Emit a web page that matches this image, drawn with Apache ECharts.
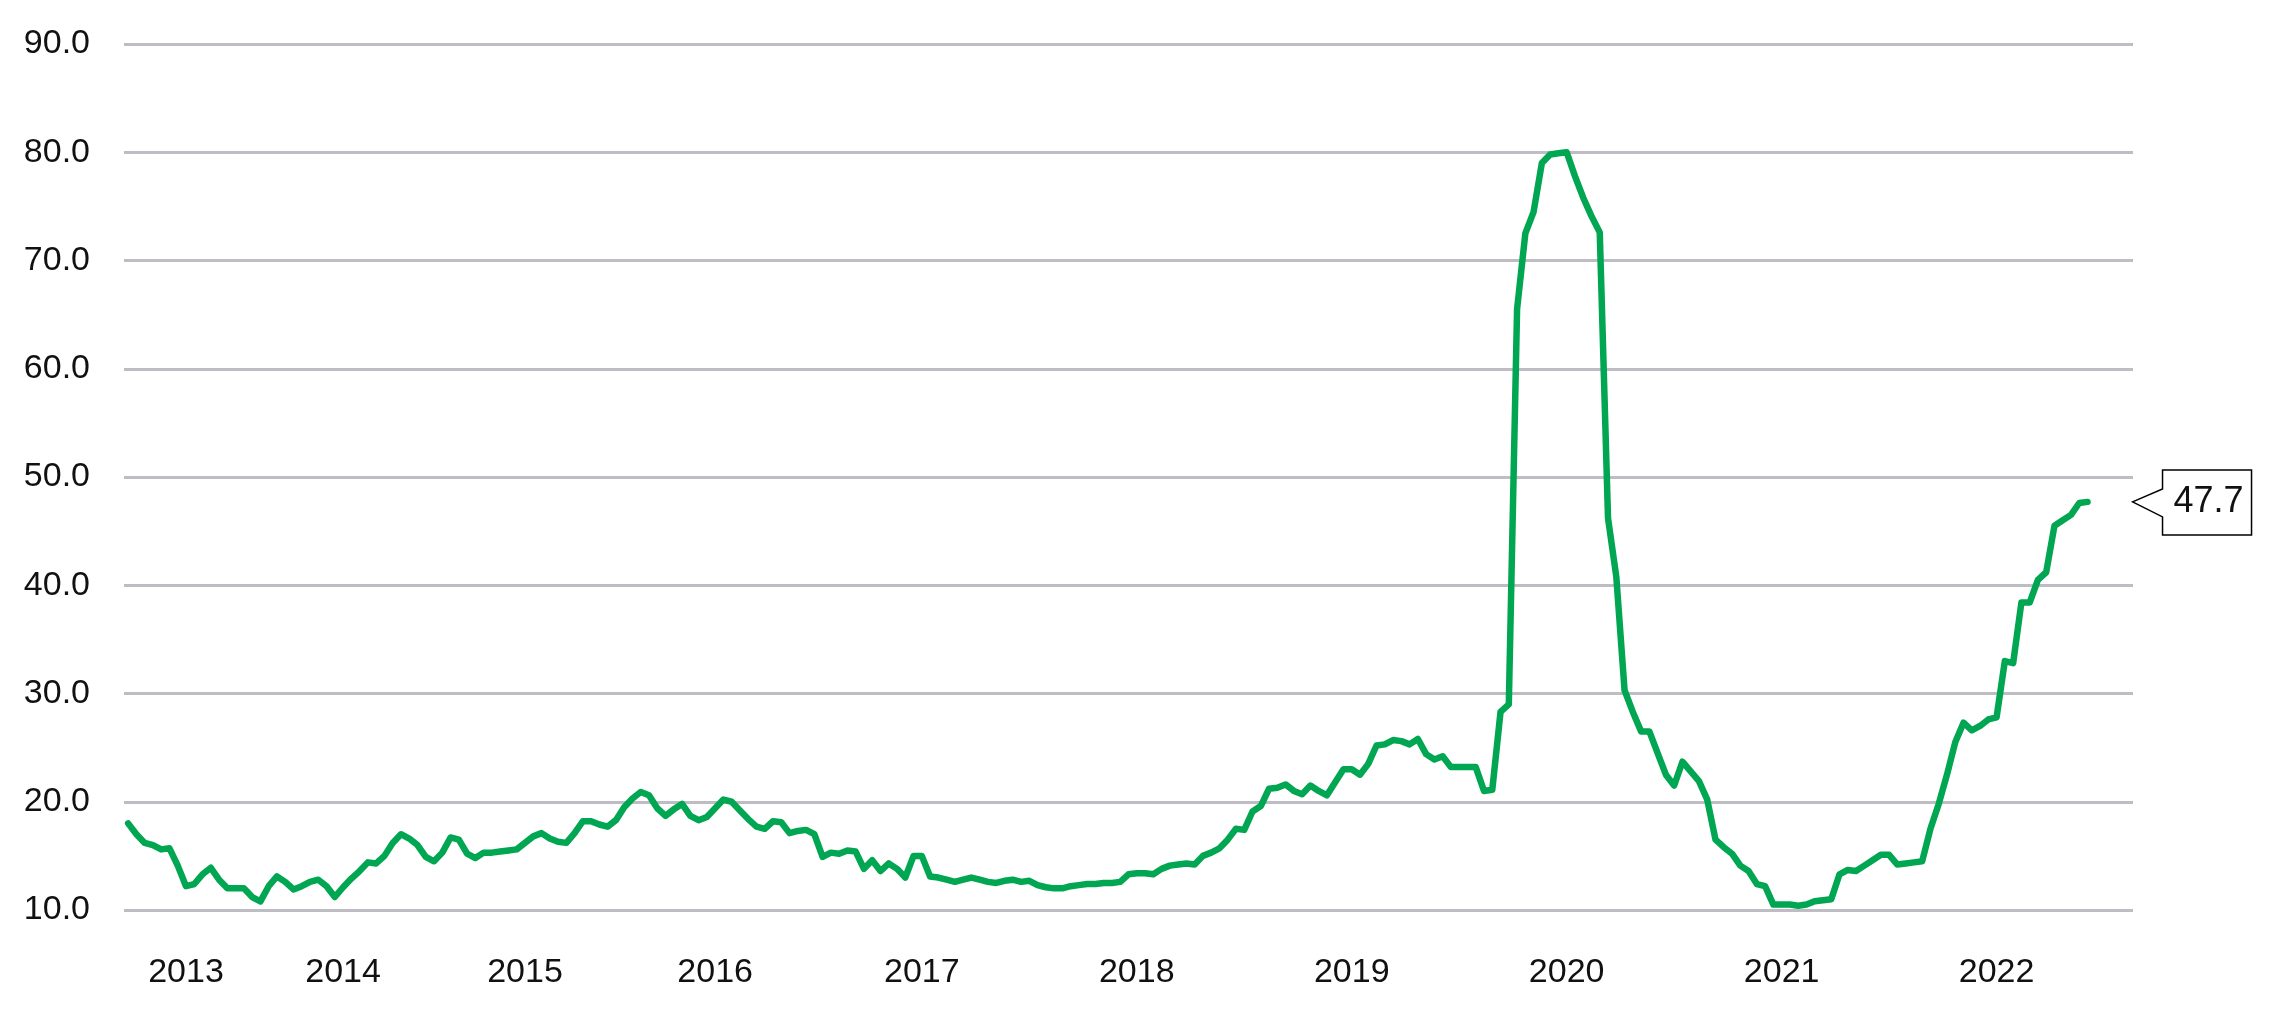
<!DOCTYPE html>
<html>
<head>
<meta charset="utf-8">
<script src="https://cdn.jsdelivr.net/npm/echarts@6/dist/echarts.min.js"></script>
<style>
  html, body { margin: 0; padding: 0; background: #ffffff; }
  #chart { width: 2283px; height: 1033px; }
</style>
</head>
<body>
<div id="chart"></div>
<script>
// ---- data ----
const years = [2012, 2013, 2014, 2015, 2016, 2017, 2018, 2019, 2020, 2021, 2022];
const s2012 = [18.0, 17.0, 16.2, 16.0, 15.6, 15.7, 14.1];
const s2013 = [12.2, 12.4, 13.3, 13.9, 12.8, 12.0, 12.0, 12.0, 11.2, 10.8, 12.2, 13.1, 12.6, 11.9, 12.2, 12.6, 12.8, 12.2, 11.2];
const s2014 = [12.1, 12.9, 13.6, 14.4, 14.3, 15.0, 16.2, 17.0, 16.6, 16.0, 14.9, 14.5, 15.3, 16.7, 16.5, 15.2, 14.8, 15.3, 15.3, 15.4, 15.5, 15.6];
const s2015 = [16.2, 16.8, 17.1, 16.6, 16.3, 16.2, 17.1, 18.2, 18.2, 17.9, 17.7, 18.3, 19.5, 20.3, 20.9, 20.6, 19.4, 18.7, 19.3, 19.8, 18.7, 18.3, 18.6];
const s2016 = [19.4, 20.2, 20.0, 19.2, 18.4, 17.7, 17.5, 18.2, 18.1, 17.1, 17.3, 17.4, 17.0, 14.9, 15.3, 15.2, 15.5, 15.4, 13.8, 14.6, 13.6, 14.3, 13.8, 13.0, 15.0];
const s2017 = [15.0, 13.1, 13.0, 12.8, 12.6, 12.8, 13.0, 12.8, 12.6, 12.5, 12.7, 12.8, 12.6, 12.7, 12.3, 12.1, 12.0, 12.0, 12.2, 12.3, 12.4, 12.4, 12.5, 12.5, 12.6, 13.3];
const s2018 = [13.4, 13.4, 13.3, 13.8, 14.1, 14.2, 14.3, 14.2, 15.0, 15.3, 15.7, 16.5, 17.5, 17.4, 19.1, 19.6, 21.2, 21.3, 21.6, 21.0, 20.7, 21.5, 21.0, 20.6, 21.8, 23.0];
const s2019 = [23.0, 22.5, 23.5, 25.2, 25.3, 25.7, 25.6, 25.3, 25.8, 24.4, 23.9, 24.2, 23.2, 23.2, 23.2, 23.2, 21.0, 21.1, 28.3, 29.0, 65.5, 72.5, 74.5, 79.0, 79.8, 79.9];
const s2020 = [80.0, 77.8, 75.8, 74.1, 72.6, 46.2, 40.8, 30.3, 28.3, 26.5, 26.5, 24.5, 22.5, 21.5, 23.7, 22.8, 21.9, 20.2, 16.5, 15.8, 15.2, 14.1, 13.6, 12.4, 12.2, 10.5];
const s2021 = [10.5, 10.5, 10.4, 10.5, 10.8, 10.9, 11.0, 13.3, 13.7, 13.6, 14.1, 14.6, 15.1, 15.1, 14.2, 14.3, 14.4, 14.5, 17.5, 19.8, 22.5, 25.5, 27.3, 26.6, 27.0, 27.6];
const s2022 = [27.8, 33.0, 32.8, 38.4, 38.4, 40.5, 41.2, 45.5, 46.0, 46.5, 47.6, 47.7];
const seriesByYear = [s2012, s2013, s2014, s2015, s2016, s2017, s2018, s2019, s2020, s2021, s2022];
const yTickMin = 10, yTickMax = 90, yTickStep = 10;
const trailingEmptyPeriods = 5;

// ---- build category list and values ----
const categories = [];
const values = [];
seriesByYear.forEach((arr, k) => {
  arr.forEach((v, j) => {
    categories.push(years[k] + '-' + (j + 1));
    values.push(v);
  });
});
for (let j = 0; j < trailingEmptyPeriods; j++) {
  categories.push('pad-' + j);
}
const lastIndex = values.length - 1;
const lastValue = values[lastIndex];

const FONT = "'Liberation Sans', Arial, sans-serif";

const chart = echarts.init(document.getElementById('chart'), null, { renderer: 'canvas' });

const option = {
  animation: false,
  backgroundColor: '#ffffff',
  grid: { left: 124, right: 150, top: 44, bottom: 123, containLabel: false },
  xAxis: {
    type: 'category',
    data: categories,
    boundaryGap: true,
    axisLine: { show: false },
    axisTick: { show: false },
    splitLine: { show: false },
    axisLabel: {
      interval: function (idx, val) { return /^\d{4}-1$/.test(val) && val.slice(0, 4) !== '2012'; },
      formatter: function (val) { return val.slice(0, 4); },
      color: '#111111',
      fontFamily: FONT,
      fontSize: 34,
      margin: 46
    }
  },
  yAxis: {
    type: 'value',
    min: yTickMin,
    max: yTickMax,
    interval: yTickStep,
    axisLine: { show: false },
    axisTick: { show: false },
    splitLine: { show: true, lineStyle: { color: '#bebdc4', width: 3 } },
    axisLabel: {
      formatter: function (v) { return v.toFixed(1); },
      color: '#111111',
      fontFamily: FONT,
      fontSize: 34,
      margin: 34
    }
  },
  series: [{
    type: 'line',
    data: values,
    showSymbol: false,
    symbol: 'none',
    smooth: false,
    lineStyle: { color: '#00a651', width: 6.5, join: 'round', cap: 'round' },
    z: 3
  }]
};
chart.setOption(option);

// ---- callout for the last value ----
const p = chart.convertToPixel({ xAxisIndex: 0, yAxisIndex: 0 }, [categories[lastIndex], lastValue]);
const tx = p[0] + 45, ty = p[1];
chart.setOption({
  graphic: [
    {
      type: 'polygon',
      shape: {
        points: [
          [tx, ty], [tx + 30, ty - 13], [tx + 30, ty - 32], [tx + 119, ty - 32],
          [tx + 119, ty + 33], [tx + 30, ty + 33], [tx + 30, ty + 15]
        ]
      },
      style: { fill: '#ffffff', stroke: '#000000', lineWidth: 1.5 },
      z: 10
    },
    {
      type: 'text',
      x: tx + 76,
      y: ty,
      style: {
        text: lastValue.toFixed(1),
        fill: '#111111',
        font: "36px " + FONT,
        textAlign: 'center',
        textVerticalAlign: 'middle',
        verticalAlign: 'middle',
        align: 'center'
      },
      z: 11
    }
  ]
});
</script>
</body>
</html>
